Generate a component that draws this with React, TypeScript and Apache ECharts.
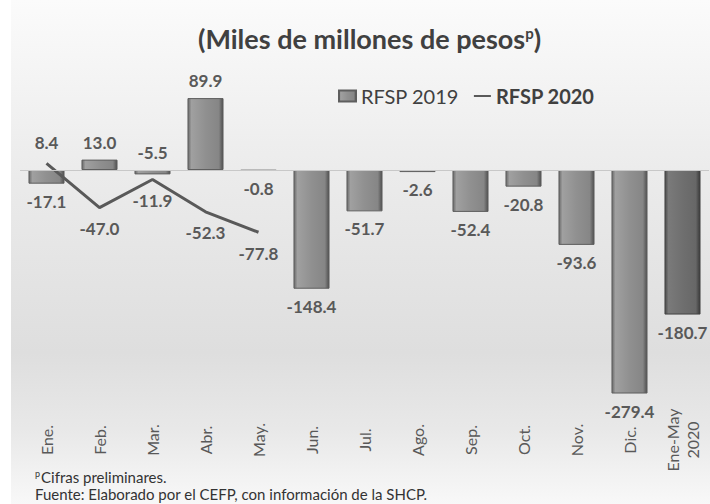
import React, { useEffect, useRef } from "react";
import * as echarts from "echarts";

const categories = ["Ene.", "Feb.", "Mar.", "Abr.", "May.", "Jun.", "Jul.", "Ago.", "Sep.", "Oct.", "Nov.", "Dic.", "Ene-May\n2020"];
const rfsp2019 = [-17.1, 13.0, -5.5, 89.9, -0.8, -148.4, -51.7, -2.6, -52.4, -20.8, -93.6, -279.4, -180.7];
const rfsp2020 = [8.4, -47.0, -11.9, -52.3, -77.8];
const yMin = -300;
const yMax = 100;

const FONT = "Lato, 'Open Sans', sans-serif";
const LABEL_COLOR = "#595959";
const CLEAR = "rgba(0,0,0,0)";

function barGradient(dark: boolean) {
  const c = dark
    ? ["#4a4a4a", "#7a7a7a", "#6f6f6f", "#676767", "#3a3a3a"]
    : ["#6a6a6a", "#a0a0a0", "#909090", "#868686", "#505050"];
  return new echarts.graphic.LinearGradient(0, 0, 1, 0, [
    { offset: 0, color: c[0] },
    { offset: 0.1, color: c[1] },
    { offset: 0.5, color: c[2] },
    { offset: 0.88, color: c[3] },
    { offset: 1, color: c[4] },
  ]);
}

export default function App() {
  const ref = useRef<HTMLDivElement>(null);
  useEffect(() => {
    if (!ref.current) return;
    const chart = echarts.init(ref.current, null, { renderer: "svg" });
    const lastIdx = categories.length - 1;
    const barData = rfsp2019.map((v, i) => {
      const pos = v >= 0 || i === 2 ? "top" : "bottom";
      return {
        value: v,
        itemStyle: { color: barGradient(i === lastIdx), borderColor: i === lastIdx ? "#444" : "#5e5e5e", borderWidth: 1 },
        label: { position: pos },
      };
    });
    const lineData: any[] = categories.map((_, i) => {
      if (i >= rfsp2020.length) return "-";
      const v = rfsp2020[i];
      return { value: v, label: { position: v >= 0 ? "top" : "bottom" } };
    });
    chart.setOption({
      animation: false,
      backgroundColor: "#ffffff",
      graphic: [
        {
          type: "rect",
          z: -10,
          silent: true,
          shape: { x: 11, y: 0, width: 699, height: 504 },
          style: {
            fill: new echarts.graphic.LinearGradient(0, 0, 0, 1, [
              { offset: 0, color: "#fbfbfb" },
              { offset: 0.35, color: "#ebebeb" },
              { offset: 0.7, color: "#dedede" },
              { offset: 0.85, color: "#e8e8e8" },
              { offset: 1, color: "#f8f8f8" },
            ]),
          },
        },
        {
          type: "text",
          left: 35,
          top: 469,
          style: {
            text: "{s|p}Cifras preliminares.",
            fill: "#333333",
            font: `15px ${FONT}`,
            rich: { s: { fontSize: 9, verticalAlign: "top", fill: "#333333", fontFamily: FONT, padding: [0, 1, 7, 0] } },
          } as any,
        },
        {
          type: "text",
          left: 35,
          top: 486,
          style: {
            text: "Fuente: Elaborado por el CEFP, con información de la SHCP.",
            fill: "#333333",
            font: `15px ${FONT}`,
          },
        },
      ],
      title: {
        text: "(Miles de millones de pesos{p|p})",
        left: 193,
        top: 20,
        textStyle: {
          fontFamily: FONT,
          fontSize: 27,
          fontWeight: "bold",
          color: "#404040",
          rich: {
            p: { fontSize: 15, fontWeight: "bold", color: "#404040", fontFamily: FONT, verticalAlign: "top", padding: [0, 0, 12, 0] },
          },
        },
      },
      legend: {
        left: 333,
        top: 81,
        itemGap: 14,
        itemWidth: 17,
        itemHeight: 11,
        data: [
          { name: "RFSP 2019", icon: "rect", textStyle: { fontWeight: "normal" } },
          { name: "RFSP 2020", itemStyle: { color: CLEAR, borderColor: CLEAR, borderWidth: 0 }, textStyle: { fontWeight: "bold" } },
        ],
        textStyle: { fontFamily: FONT, fontSize: 20, color: "#404040" },
      },
      grid: { left: 20, right: 1, top: 90, height: 320 },
      xAxis: {
        type: "category",
        data: categories,
        axisLine: { show: false, onZero: false },
        axisTick: { show: false },
        axisLabel: {
          rotate: 90,
          align: "center",
          verticalAlign: "middle",
          margin: 30,
          fontFamily: FONT,
          fontSize: 16,
          color: LABEL_COLOR,
          lineHeight: 20,
          interval: 0,
        },
      },
      yAxis: {
        type: "value",
        min: yMin,
        max: yMax,
        show: false,
        splitLine: { show: false },
      },
      series: [
        {
          name: "RFSP 2019",
          type: "bar",
          barWidth: "68%",
          data: barData,
          itemStyle: { color: barGradient(false), borderColor: "#5e5e5e", borderWidth: 1 },
          label: {
            show: true,
            distance: 9,
            fontFamily: FONT,
            fontSize: 17,
            fontWeight: "bold",
            color: LABEL_COLOR,
            formatter: (p: any) => Number(p.value).toFixed(1),
          },
          markLine: {
            silent: true,
            symbol: "none",
            label: { show: false },
            lineStyle: { color: "#c8c8c8", width: 1, type: "solid" },
            data: [{ yAxis: 0 }],
          },
        },
        {
          name: "RFSP 2020",
          type: "line",
          data: lineData,
          smooth: false,
          symbol: "circle",
          symbolSize: 1,
          showSymbol: true,
          lineStyle: { color: "#595959", width: 3 },
          itemStyle: { color: CLEAR },
          label: {
            show: true,
            distance: 12,
            fontFamily: FONT,
            fontSize: 17,
            fontWeight: "bold",
            color: LABEL_COLOR,
            formatter: (p: any) => Number(p.value).toFixed(1),
          },
        },
      ],
    });
    return () => chart.dispose();
  }, []);
  return <div ref={ref} style={{ position: "fixed", left: 0, top: 0, width: 710, height: 504 }} />;
}
